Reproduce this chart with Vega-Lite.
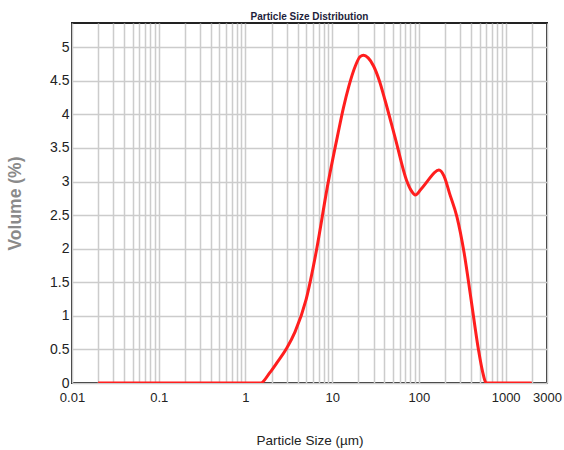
{
  "$schema": "https://vega.github.io/schema/vega-lite/v6.json",
  "autosize": "none",
  "width": 475,
  "height": 360,
  "padding": {"left": 72, "top": 23, "right": 17, "bottom": 67},
  "background": "white",
  "title": {
    "text": "Particle Size Distribution",
    "font": "Liberation Sans, Arial, sans-serif",
    "fontSize": 10,
    "fontWeight": "bold",
    "color": "#1e1e3c",
    "offset": 1
  },
  "config": {
    "view": {"stroke": "#222222", "strokeWidth": 2},
    "axis": {
      "labelFont": "Liberation Sans, Arial, sans-serif",
      "titleFont": "Liberation Sans, Arial, sans-serif",
      "labelColor": "#222222",
      "gridColor": "#cccccc",
      "gridWidth": 1.5,
      "domain": false,
      "ticks": false
    }
  },
  "data": {
    "values": [
      {"size": 0.02, "volume": 0},
      {"size": 0.1, "volume": 0},
      {"size": 1, "volume": 0},
      {"size": 1.5, "volume": 0},
      {"size": 1.9, "volume": 0.15},
      {"size": 2.3, "volume": 0.3},
      {"size": 3.0, "volume": 0.52},
      {"size": 3.73, "volume": 0.76},
      {"size": 5.0, "volume": 1.24},
      {"size": 6.6, "volume": 1.98},
      {"size": 8.8, "volume": 2.92},
      {"size": 11.7, "volume": 3.72},
      {"size": 13.5, "volume": 4.1},
      {"size": 15.5, "volume": 4.41},
      {"size": 18.5, "volume": 4.72},
      {"size": 21, "volume": 4.86},
      {"size": 23, "volume": 4.88},
      {"size": 26, "volume": 4.84},
      {"size": 30, "volume": 4.72},
      {"size": 35, "volume": 4.5},
      {"size": 40.7, "volume": 4.21},
      {"size": 54, "volume": 3.62},
      {"size": 72, "volume": 3.02},
      {"size": 82, "volume": 2.86},
      {"size": 91, "volume": 2.8},
      {"size": 105, "volume": 2.88},
      {"size": 128, "volume": 3.02},
      {"size": 150, "volume": 3.13},
      {"size": 170, "volume": 3.17},
      {"size": 195, "volume": 3.08},
      {"size": 226, "volume": 2.82},
      {"size": 275, "volume": 2.47},
      {"size": 333, "volume": 1.93},
      {"size": 400, "volume": 1.24},
      {"size": 487, "volume": 0.49},
      {"size": 540, "volume": 0.18},
      {"size": 600, "volume": 0},
      {"size": 1000, "volume": 0},
      {"size": 2000, "volume": 0}
    ]
  },
  "mark": {"type": "line", "color": "#ff1e1e", "strokeWidth": 3, "interpolate": "monotone", "clip": true},
  "encoding": {
    "x": {
      "field": "size",
      "type": "quantitative",
      "scale": {"type": "log", "domain": [0.01, 3000], "nice": false},
      "axis": {
        "title": "Particle Size (µm)",
        "titleFontSize": 13.5,
        "titleFontWeight": "normal",
        "titleColor": "#222222",
        "titlePadding": 29,
        "labelFontSize": 13,
        "labelPadding": 8,
        "labelFlush": false,
        "labelOverlap": false,
        "values": [0.01,0.02,0.03,0.04,0.05,0.06,0.07,0.08,0.09,0.1,0.2,0.3,0.4,0.5,0.6,0.7,0.8,0.9,1,2,3,4,5,6,7,8,9,10,20,30,40,50,60,70,80,90,100,200,300,400,500,600,700,800,900,1000,2000,3000],
        "labelExpr": "indexof([0.01,0.1,1,10,100,1000,3000], datum.value) >= 0 ? format(datum.value, '') : ''"
      }
    },
    "y": {
      "field": "volume",
      "type": "quantitative",
      "scale": {"domain": [0, 5.36], "nice": false},
      "axis": {
        "title": "Volume (%)",
        "titleFontSize": 17.5,
        "titleFontWeight": "bold",
        "titleColor": "#8a8a8a",
        "titlePadding": 25,
        "labelFontSize": 14,
        "labelPadding": 3,
        "labelOverlap": false,
        "format": "~g",
        "values": [0,0.5,1,1.5,2,2.5,3,3.5,4,4.5,5]
      }
    }
  }
}
